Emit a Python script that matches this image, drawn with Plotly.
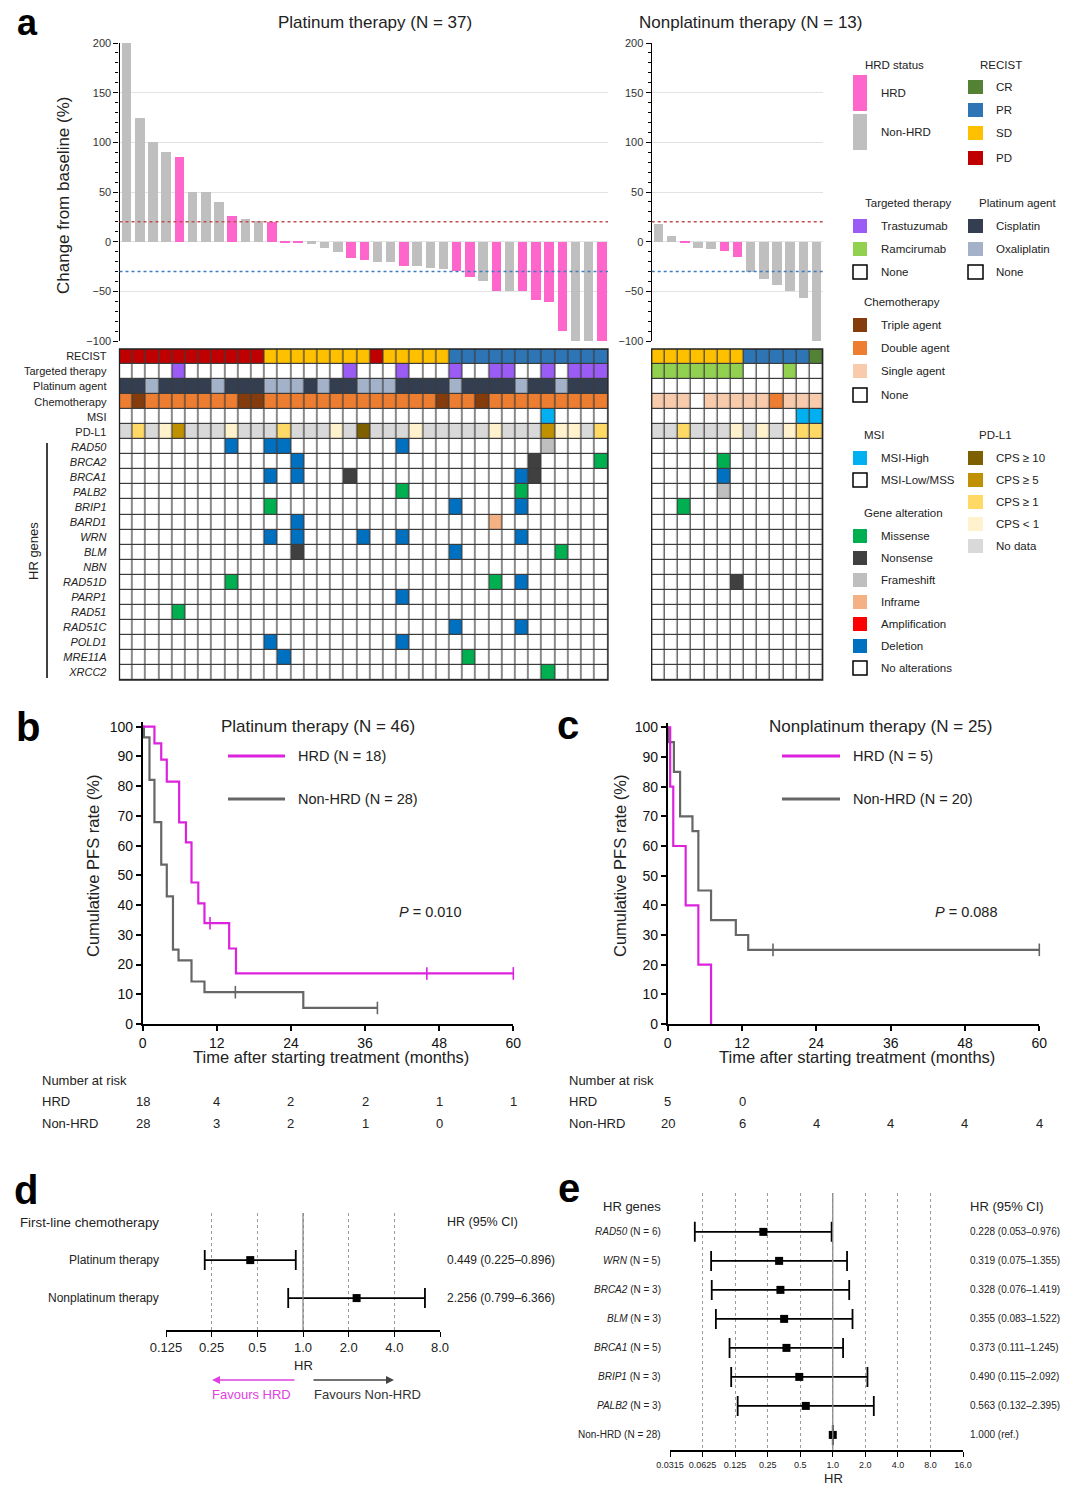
import math
import plotly.graph_objects as go

W, H = 1080, 1489
FONT = "Liberation Sans, Arial, Helvetica, sans-serif"
INK = "#222222"


def X(px):
    return px / W


def Y(py):
    return 1 - py / H


# ------------------------------------------------------------------ data
# waterfall (best change from baseline, %)
plat_change = [200, 125, 100, 90, 85, 50, 50, 40, 26, 23, 21, 20, -1, -1, -2, -6, -10, -16, -18,
               -20, -20, -24, -24, -27, -28, -30, -36, -40, -50, -50, -50, -59, -61, -90, -100, -100, -100]
plat_hrd = ["N", "N", "N", "N", "H", "N", "N", "N", "H", "N", "N", "H", "H", "H", "N", "N", "N", "H", "H",
            "N", "N", "H", "N", "N", "N", "H", "H", "N", "H", "N", "H", "H", "H", "H", "N", "N", "H"]
nonplat_change = [18, 6, -1, -6, -7, -9, -15, -31, -38, -44, -50, -57, -100]
nonplat_hrd = ["N", "N", "H", "N", "N", "H", "H", "N", "N", "N", "N", "N", "N"]

# oncoprint annotation rows (platinum, 37 patients)
plat_recist = ["PD", "PD", "PD", "PD", "PD", "PD", "PD", "PD", "PD", "PD", "PD",
               "SD", "SD", "SD", "SD", "SD", "SD", "SD", "SD", "PD", "SD", "SD", "SD", "SD", "SD",
               "PR", "PR", "PR", "PR", "PR", "PR", "PR", "PR", "PR", "PR", "PR", "PR"]
plat_targeted = ["-", "-", "-", "-", "Tras", "-", "-", "-", "-", "-", "-", "-", "-", "-", "-", "-", "-",
                 "Tras", "-", "-", "-", "Tras", "-", "-", "-", "Tras", "-", "-", "Tras", "Tras", "-", "-",
                 "Tras", "-", "Tras", "Tras", "Tras"]
plat_platinum = ["Cis", "Cis", "Oxa", "Cis", "Cis", "Cis", "Cis", "Oxa", "Cis", "Cis", "Cis", "Oxa", "Oxa",
                 "Oxa", "Cis", "Oxa", "Cis", "Cis", "Oxa", "Oxa", "Oxa", "Cis", "Cis", "Cis", "Cis", "Oxa",
                 "Cis", "Cis", "Cis", "Cis", "Oxa", "Cis", "Cis", "Oxa", "Cis", "Cis", "Cis"]
plat_chemo = ["Dbl", "Tri", "Dbl", "Dbl", "Dbl", "Dbl", "Dbl", "Dbl", "Dbl", "Tri", "Tri", "Dbl", "Dbl",
              "Dbl", "Dbl", "Dbl", "Dbl", "Dbl", "Dbl", "Dbl", "Dbl", "Dbl", "Dbl", "Dbl", "Tri", "Dbl",
              "Dbl", "Tri", "Dbl", "Dbl", "Dbl", "Dbl", "Dbl", "Dbl", "Dbl", "Dbl", "Dbl"]
plat_msi = ["MSS", "MSS", "MSS", "MSS", "MSS", "MSS", "MSS", "MSS", "MSS", "MSS", "MSS", "MSS", "MSS",
            "MSS", "MSS", "MSS", "MSS", "MSS", "MSS", "MSS", "MSS", "MSS", "MSS", "MSS", "MSS", "MSS",
            "MSS", "MSS", "MSS", "MSS", "MSS", "MSS", "MSI-H", "MSS", "MSS", "MSS", "MSS"]
plat_pdl1 = ["ND", "CPS1", "ND", "CPS0", "CPS5", "ND", "ND", "ND", "CPS0", "ND", "ND", "ND", "CPS1",
             "ND", "ND", "ND", "CPS0", "ND", "CPS10", "ND", "ND", "ND", "CPS0", "ND", "ND", "ND",
             "ND", "ND", "CPS0", "ND", "ND", "ND", "CPS5", "CPS0", "CPS0", "ND", "CPS1"]
# gene alterations: {gene: {patient column: alteration}}
plat_genes = {
    "RAD50": {9: "Del", 12: "Del", 13: "Del", 22: "Del", 33: "FS"},
    "BRCA2": {14: "Del", 32: "Non", 37: "Mis"},
    "BRCA1": {12: "Del", 14: "Del", 18: "Non", 31: "Del", 32: "Non"},
    "PALB2": {22: "Mis", 31: "Mis"},
    "BRIP1": {12: "Mis", 26: "Del", 31: "Del"},
    "BARD1": {14: "Del", 29: "Inf"},
    "WRN": {12: "Del", 14: "Del", 19: "Del", 22: "Del", 31: "Del"},
    "BLM": {14: "Non", 26: "Del", 34: "Mis"},
    "NBN": {},
    "RAD51D": {9: "Mis", 29: "Mis", 31: "Del"},
    "PARP1": {22: "Del"},
    "RAD51": {5: "Mis"},
    "RAD51C": {26: "Del", 31: "Del"},
    "POLD1": {12: "Del", 22: "Del"},
    "MRE11A": {13: "Del", 27: "Mis"},
    "XRCC2": {33: "Mis"},
}

# oncoprint annotation rows (nonplatinum, 13 patients)
nonplat_recist = ["SD", "SD", "SD", "SD", "SD", "SD", "SD", "PR", "PR", "PR", "PR", "PR", "CR"]
nonplat_targeted = ["Ram", "Ram", "Ram", "Ram", "Ram", "Ram", "Ram", "-", "-", "-", "Ram", "-", "-"]
nonplat_platinum = ["-", "-", "-", "-", "-", "-", "-", "-", "-", "-", "-", "-", "-"]
nonplat_chemo = ["Sgl", "Sgl", "Sgl", "-", "Sgl", "Sgl", "Sgl", "Sgl", "Sgl", "Dbl", "Sgl", "Sgl", "Sgl"]
nonplat_msi = ["MSS", "MSS", "MSS", "MSS", "MSS", "MSS", "MSS", "MSS", "MSS", "MSS", "MSS", "MSI-H", "MSI-H"]
nonplat_pdl1 = ["ND", "ND", "CPS1", "ND", "ND", "ND", "CPS0", "ND", "CPS0", "ND", "CPS0", "CPS1", "CPS1"]
nonplat_genes = {
    "BRCA2": {6: "Mis"},
    "BRCA1": {6: "Del"},
    "PALB2": {6: "FS"},
    "BRIP1": {3: "Mis"},
    "RAD51D": {7: "Non"},
}

annot_rows = ["RECIST", "Targeted therapy", "Platinum agent", "Chemotherapy", "MSI", "PD-L1"]
gene_order = ["RAD50", "BRCA2", "BRCA1", "PALB2", "BRIP1", "BARD1", "WRN", "BLM", "NBN", "RAD51D",
              "PARP1", "RAD51", "RAD51C", "POLD1", "MRE11A", "XRCC2"]

# Kaplan-Meier (months, PFS %)
kmb_hrd_t = [0, 1.9, 3.0, 3.9, 5.9, 7.0, 7.9, 9.0, 10.0, 14.0, 15.1, 60]
kmb_hrd_s = [100, 94.4, 88.9, 81.5, 67.8, 61.1, 47.6, 40.6, 33.9, 25.4, 17.0, 17.0]
kmb_hrd_cens_t = [10.9, 46.0, 60]
kmb_hrd_cens_s = [33.9, 17.0, 17.0]
kmb_non_t = [0, 0.2, 1.1, 1.9, 3.0, 3.9, 4.9, 5.8, 7.9, 10.0, 26.0, 38.0]
kmb_non_s = [100, 96.4, 82.1, 67.9, 53.6, 42.9, 25.0, 21.4, 14.3, 10.7, 5.4, 5.4]
kmb_non_cens_t = [15.0, 38.0]
kmb_non_cens_s = [10.7, 5.4]

kmc_hrd_t = [0, 0.4, 0.9, 2.9, 4.95, 7.0]
kmc_hrd_s = [100, 80, 60, 40, 20, 0]
kmc_non_t = [0, 0.1, 1.0, 2.0, 4.0, 4.95, 7.0, 11.0, 13.0, 60]
kmc_non_s = [100, 95, 85, 70, 65, 45, 35, 30, 25, 25]
kmc_non_cens_t = [17.0, 60]
kmc_non_cens_s = [25, 25]

risk_times = [0, 12, 24, 36, 48, 60]
risk_b_hrd = [18, 4, 2, 2, 1, 1]
risk_b_non = [28, 3, 2, 1, 0]
risk_c_hrd = [5, 0]
risk_c_non = [20, 6, 4, 4, 4, 4]

# forest plots
d_groups = ["Platinum therapy", "Nonplatinum therapy"]
d_hr = [0.449, 2.256]
d_lo = [0.225, 0.799]
d_hi = [0.896, 6.366]

e_genes = ["RAD50", "WRN", "BRCA2", "BLM", "BRCA1", "BRIP1", "PALB2", "Non-HRD"]
e_n = [6, 5, 3, 3, 5, 3, 3, 28]
e_hr = [0.228, 0.319, 0.328, 0.355, 0.373, 0.490, 0.563, 1.000]
e_lo = [0.053, 0.075, 0.076, 0.083, 0.111, 0.115, 0.132, 1.000]
e_hi = [0.976, 1.355, 1.419, 1.522, 1.245, 2.092, 2.395, 1.000]

# ------------------------------------------------------------------ styles
HRD_BAR = "#FF66CC"
NON_BAR = "#BFBFBF"
KM_HRD = "#DD22DD"
KM_NON = "#666666"
CAT_COLORS = {
    "none": "#FFFFFF",
    "CR": "#548235", "PR": "#2E75B6", "SD": "#FFC000", "PD": "#C00000",
    "Tras": "#9B5CF6", "Ram": "#92D050",
    "Cis": "#333F50", "Oxa": "#A3B2C8",
    "Tri": "#843C0C", "Dbl": "#ED7D31", "Sgl": "#F8CBAD",
    "MSI-H": "#00B0F0",
    "CPS10": "#7F6000", "CPS5": "#BF9000", "CPS1": "#FFD966", "CPS0": "#FFF2CC", "ND": "#D9D9D9",
    "Mis": "#00B050", "Non": "#404040", "FS": "#BFBFBF", "Inf": "#F4B183", "Amp": "#FF0000", "Del": "#0070C0",
}
ALIAS = {"-": "none", "MSS": "none"}
cats = list(CAT_COLORS.keys())
ncat = len(cats)
cscale = []
for i, c in enumerate(cats):
    cscale.append([i / ncat, CAT_COLORS[c]])
    cscale.append([(i + 1) / ncat, CAT_COLORS[c]])


def code(v):
    v = ALIAS.get(v, v)
    return cats.index(v) + 0.5


def build_matrix(rows, genes, ncol):
    z = [[code(v) for v in r] for r in rows]
    for g in gene_order:
        alts = genes.get(g, {})
        z.append([code(alts.get(c + 1, "none")) for c in range(ncol)])
    return z


fig = go.Figure()

# ------------------------------------------------------------------ waterfalls
fig.add_trace(go.Bar(x=list(range(1, len(plat_change) + 1)), y=plat_change,
                     marker=dict(color=[HRD_BAR if h == "H" else NON_BAR for h in plat_hrd], line=dict(width=0)),
                     width=0.72, xaxis="x", yaxis="y", showlegend=False, hoverinfo="skip"))
fig.add_trace(go.Bar(x=list(range(1, len(nonplat_change) + 1)), y=nonplat_change,
                     marker=dict(color=[HRD_BAR if h == "H" else NON_BAR for h in nonplat_hrd], line=dict(width=0)),
                     width=0.72, xaxis="x2", yaxis="y2", showlegend=False, hoverinfo="skip"))

# ------------------------------------------------------------------ oncoprints
zp = build_matrix([plat_recist, plat_targeted, plat_platinum, plat_chemo, plat_msi, plat_pdl1], plat_genes,
                  len(plat_recist))
zn = build_matrix([nonplat_recist, nonplat_targeted, nonplat_platinum, nonplat_chemo, nonplat_msi, nonplat_pdl1],
                  nonplat_genes, len(nonplat_recist))
nrow = len(annot_rows) + len(gene_order)
fig.add_trace(go.Heatmap(z=zp, x=list(range(1, len(plat_recist) + 1)), y=list(range(nrow)),
                         colorscale=cscale, zmin=0, zmax=ncat, showscale=False, xgap=1.2, ygap=1.2,
                         xaxis="x3", yaxis="y3", hoverinfo="skip"))
fig.add_trace(go.Heatmap(z=zn, x=list(range(1, len(nonplat_recist) + 1)), y=list(range(nrow)),
                         colorscale=cscale, zmin=0, zmax=ncat, showscale=False, xgap=1.2, ygap=1.2,
                         xaxis="x4", yaxis="y4", hoverinfo="skip"))


# ------------------------------------------------------------------ KM curves
def km(t, s, color, xa, ya):
    fig.add_trace(go.Scatter(x=t, y=s, mode="lines", line=dict(shape="hv", color=color, width=2.2),
                             xaxis=xa, yaxis=ya, showlegend=False, hoverinfo="skip"))


def cens(t, s, color, xa, ya):
    fig.add_trace(go.Scatter(x=t, y=s, mode="markers", cliponaxis=False,
                             marker=dict(symbol="line-ns-open", size=9, color=color,
                                         line=dict(color=color, width=1.6)),
                             xaxis=xa, yaxis=ya, showlegend=False, hoverinfo="skip"))


km(kmb_non_t, kmb_non_s, KM_NON, "x5", "y5")
km(kmb_hrd_t, kmb_hrd_s, KM_HRD, "x5", "y5")
cens(kmb_non_cens_t, kmb_non_cens_s, KM_NON, "x5", "y5")
cens(kmb_hrd_cens_t, kmb_hrd_cens_s, KM_HRD, "x5", "y5")
km(kmc_non_t, kmc_non_s, KM_NON, "x6", "y6")
km(kmc_hrd_t, kmc_hrd_s, KM_HRD, "x6", "y6")
cens(kmc_non_cens_t, kmc_non_cens_s, KM_NON, "x6", "y6")

# ------------------------------------------------------------------ forest plots
fig.add_trace(go.Scatter(x=d_hr, y=list(range(len(d_hr))), mode="markers",
                         marker=dict(symbol="square", size=8, color="black"),
                         error_x=dict(type="data", symmetric=False,
                                      array=[h - m for h, m in zip(d_hi, d_hr)],
                                      arrayminus=[m - l for m, l in zip(d_hr, d_lo)],
                                      color="black", thickness=1.8, width=10),
                         xaxis="x7", yaxis="y7", showlegend=False, hoverinfo="skip"))
fig.add_trace(go.Scatter(x=e_hr, y=list(range(len(e_hr))), mode="markers",
                         marker=dict(symbol="square", size=8, color="black"),
                         error_x=dict(type="data", symmetric=False,
                                      array=[h - m for h, m in zip(e_hi, e_hr)],
                                      arrayminus=[m - l for m, l in zip(e_hr, e_lo)],
                                      color="black", thickness=1.8, width=10),
                         xaxis="x8", yaxis="y8", showlegend=False, hoverinfo="skip"))

# ------------------------------------------------------------------ axes
wf_y = dict(range=[-100, 200], tick0=0, dtick=50, showline=True, linecolor="black", linewidth=1.3,
            ticks="outside", ticklen=5, tickwidth=1.2, tickcolor="black",
            minor=dict(ticks="outside", dtick=10, ticklen=3, tickcolor="black", tickwidth=1, showgrid=False),
            showgrid=True, gridcolor="#E2E2E2", gridwidth=1, zeroline=False,
            tickfont=dict(size=11, color="#333"), automargin=False)
row_labels = annot_rows + ["<i>%s</i>" % g for g in gene_order]
km_x = dict(range=[0, 60], tick0=0, dtick=12, showline=True, linecolor="black", linewidth=1.6,
            ticks="outside", ticklen=5, tickwidth=1.5, tickcolor="black", showgrid=False, zeroline=False,
            tickfont=dict(size=14, color="#111"), automargin=False)
km_y = dict(range=[0, 101.5], tick0=0, dtick=10, showline=True, linecolor="black", linewidth=1.6,
            ticks="outside", ticklen=5, tickwidth=1.5, tickcolor="black", showgrid=False, zeroline=False,
            tickfont=dict(size=14, color="#111"), automargin=False)
d_ticks = [0.125, 0.25, 0.5, 1, 2, 4, 8]
e_ticks = [0.03125, 0.0625, 0.125, 0.25, 0.5, 1, 2, 4, 8, 16]
forest_x = dict(type="log", showline=True, linecolor="black", linewidth=1.5, ticks="outside", ticklen=5,
                tickwidth=1.3, tickcolor="black", showgrid=True, gridcolor="#9A9A9A", griddash="dot",
                gridwidth=1, zeroline=False, automargin=False)
hidden = dict(visible=False, automargin=False)

fig.update_layout(
    width=W, height=H, margin=dict(l=0, r=0, t=0, b=0, pad=0, autoexpand=False),
    paper_bgcolor="white", plot_bgcolor="white",
    font=dict(family=FONT, color=INK), showlegend=False, bargap=0,
    xaxis=dict(domain=[X(119.5), X(608)], range=[0.5, 37.5], anchor="y", **hidden),
    yaxis=dict(domain=[Y(341), Y(43)], anchor="x", **wf_y),
    xaxis2=dict(domain=[X(651.7), X(822.7)], range=[0.5, 13.5], anchor="y2", **hidden),
    yaxis2=dict(domain=[Y(341), Y(43)], anchor="x2", **wf_y),
    xaxis3=dict(domain=[X(119.5), X(608)], range=[0.5, 37.5], anchor="y3", **hidden),
    yaxis3=dict(domain=[Y(680), Y(349)], range=[nrow - 0.5, -0.5], anchor="x3", tickvals=list(range(nrow)),
                ticktext=row_labels, ticks="", showline=False, showgrid=False, zeroline=False,
                tickfont=dict(size=11, color=INK), ticklabelstandoff=12, automargin=False),
    xaxis4=dict(domain=[X(651.7), X(822.7)], range=[0.5, 13.5], anchor="y4", **hidden),
    yaxis4=dict(domain=[Y(680), Y(349)], range=[nrow - 0.5, -0.5], anchor="x4", showticklabels=False,
                ticks="", showline=False, showgrid=False, zeroline=False, automargin=False),
    xaxis5=dict(domain=[X(142.7), X(513.3)], anchor="y5", **km_x),
    yaxis5=dict(domain=[Y(1024), Y(1024 - 297.3 * 1.015)], anchor="x5", **km_y),
    xaxis6=dict(domain=[X(667.7), X(1039.3)], anchor="y6", **km_x),
    yaxis6=dict(domain=[Y(1024), Y(1024 - 296.7 * 1.015)], anchor="x6", **km_y),
    xaxis7=dict(domain=[X(166), X(440)], range=[math.log10(0.125), math.log10(8)], anchor="y7",
                tickvals=d_ticks, ticktext=["0.125", "0.25", "0.5", "1.0", "2.0", "4.0", "8.0"],
                tickfont=dict(size=13, color=INK), **forest_x),
    yaxis7=dict(domain=[Y(1330), Y(1213)], range=[1.84, -1.24], anchor="x7", **hidden),
    xaxis8=dict(domain=[X(670), X(963)], range=[math.log10(0.03125), math.log10(16)], anchor="y8",
                tickvals=e_ticks, ticktext=["0.0315", "0.0625", "0.125", "0.25", "0.5", "1.0", "2.0", "4.0",
                                            "8.0", "16.0"],
                tickfont=dict(size=9, color=INK), **forest_x),
    yaxis8=dict(domain=[Y(1450), Y(1193)], range=[7.52, -1.34], anchor="x8", **hidden),
)

shapes = []
# waterfall reference lines
for xa, ya in (("x", "y"), ("x2", "y2")):
    shapes.append(dict(type="line", xref=xa + " domain", x0=0, x1=1.0, yref=ya, y0=20, y1=20,
                       line=dict(color="#C0504D", width=1.5, dash="dot")))
    shapes.append(dict(type="line", xref=xa + " domain", x0=0, x1=1.0, yref=ya, y0=-30, y1=-30,
                       line=dict(color="#3F7CC0", width=1.5, dash="dot")))
# oncoprint grid background + frame
for xa, ya in (("x3", "y3"), ("x4", "y4")):
    shapes.append(dict(type="rect", xref=xa + " domain", yref=ya + " domain", x0=0, x1=1, y0=0, y1=1,
                       fillcolor="#3C3C3C", line=dict(width=0), layer="below"))
    shapes.append(dict(type="rect", xref=xa + " domain", yref=ya + " domain", x0=0, x1=1, y0=0, y1=1,
                       fillcolor="rgba(0,0,0,0)", line=dict(color="#222", width=1.3), layer="above"))
# HR genes bracket
shapes.append(dict(type="line", xref="paper", yref="paper", x0=X(47), x1=X(47), y0=Y(443), y1=Y(678),
                   line=dict(color="black", width=1.5)))
# forest HR = 1 lines
for xa, ya in (("x7", "y7"), ("x8", "y8")):
    shapes.append(dict(type="line", xref=xa, x0=1, x1=1, yref=ya + " domain", y0=0, y1=1,
                       line=dict(color="#8A8A8A", width=1.3)))
# KM legend lines
for (x0, x1, y, col) in ((228, 285, 756, KM_HRD), (228, 285, 799, KM_NON),
                         (782, 840, 756, KM_HRD), (782, 840, 799, KM_NON)):
    shapes.append(dict(type="line", xref="paper", yref="paper", x0=X(x0), x1=X(x1), y0=Y(y), y1=Y(y),
                       line=dict(color=col, width=3)))

annotations = []


def txt(x, y, s, size=11.5, anchor="left", color=INK, yanchor="middle", **kw):
    annotations.append(dict(xref="paper", yref="paper", x=X(x), y=Y(y), text=s, showarrow=False,
                            xanchor=anchor, yanchor=yanchor, font=dict(size=size, color=color, family=FONT),
                            **kw))


def box(x0, y0, w, h, color, outline=False):
    shapes.append(dict(type="rect", xref="paper", yref="paper", x0=X(x0), x1=X(x0 + w), y0=Y(y0 + h), y1=Y(y0),
                       fillcolor=color, line=dict(color="black" if outline else color,
                                                  width=1.5 if outline else 0)))


# panel letters
txt(27, 0, "<b>a</b>", size=36, anchor="center", color="black", yanchor="top")
for letter, x, y in (("b", 28, 727), ("c", 568, 725), ("d", 26, 1190), ("e", 569, 1188)):
    txt(x, y, "<b>%s</b>" % letter, size=40, anchor="center", color="black")

# top titles
txt(375, 23, "Platinum therapy (N = 37)", size=17, anchor="center")
txt(750, 23, "Nonplatinum therapy (N = 13)", size=17, anchor="center")
txt(63, 196, "Change from baseline (%)", size=17, anchor="center", textangle=-90)
txt(33, 551, "HR genes", size=13, anchor="center", textangle=-90)

# legends (right column)
LX1, LT1, LX2, LT2 = 853, 879, 968, 994
txt(863, 65, "HRD status")
box(LX1, 75, 14, 36, HRD_BAR)
txt(LT1, 93, "HRD")
box(LX1, 114, 14, 36, NON_BAR)
txt(LT1, 132, "Non-HRD")
txt(978, 65, "RECIST")
for lab, key, yy in (("CR", "CR", 80), ("PR", "PR", 103), ("SD", "SD", 126), ("PD", "PD", 151)):
    box(LX2, yy, 15, 14, CAT_COLORS[key])
    txt(LT2, yy + 7, lab)
txt(863, 203, "Targeted therapy")
for lab, key, yy in (("Trastuzumab", "Tras", 219), ("Ramcirumab", "Ram", 242), ("None", "none", 265)):
    box(LX1, yy, 14, 14, CAT_COLORS[key], outline=(key == "none"))
    txt(LT1, yy + 7, lab)
txt(977, 203, "Platinum agent")
for lab, key, yy in (("Cisplatin", "Cis", 219), ("Oxaliplatin", "Oxa", 242), ("None", "none", 265)):
    box(LX2, yy, 15, 14, CAT_COLORS[key], outline=(key == "none"))
    txt(LT2, yy + 7, lab)
txt(862, 302, "Chemotherapy")
for lab, key, yy in (("Triple agent", "Tri", 318), ("Double agent", "Dbl", 341), ("Single agent", "Sgl", 364),
                     ("None", "none", 388)):
    box(LX1, yy, 14, 14, CAT_COLORS[key], outline=(key == "none"))
    txt(LT1, yy + 7, lab)
txt(862, 435, "MSI")
for lab, key, yy in (("MSI-High", "MSI-H", 451), ("MSI-Low/MSS", "none", 473)):
    box(LX1, yy, 14, 14, CAT_COLORS[key], outline=(key == "none"))
    txt(LT1, yy + 7, lab)
txt(862, 513, "Gene alteration")
for lab, key, yy in (("Missense", "Mis", 529), ("Nonsense", "Non", 551), ("Frameshift", "FS", 573),
                     ("Inframe", "Inf", 595), ("Amplification", "Amp", 617), ("Deletion", "Del", 639),
                     ("No alterations", "none", 661)):
    box(LX1, yy, 14, 14, CAT_COLORS[key], outline=(key == "none"))
    txt(LT1, yy + 7, lab)
txt(977, 435, "PD-L1")
for lab, key, yy in (("CPS ≥ 10", "CPS10", 451), ("CPS ≥ 5", "CPS5", 473), ("CPS ≥ 1", "CPS1", 495),
                     ("CPS &lt; 1", "CPS0", 517), ("No data", "ND", 539)):
    box(LX2, yy, 15, 14, CAT_COLORS[key])
    txt(LT2, yy + 7, lab)

# KM texts
txt(318, 726, "Platinum therapy (N = 46)", size=17, anchor="center")
txt(296, 756, "HRD (N = 18)", size=14.5)
txt(296, 799, "Non-HRD (N = 28)", size=14.5)
txt(397, 912, "<i>P</i> = 0.010", size=14.5)
txt(93, 866, "Cumulative PFS rate (%)", size=16.5, anchor="center", textangle=-90)
txt(331, 1057, "Time after starting treatment (months)", size=16.5, anchor="center")
txt(880, 726, "Nonplatinum therapy (N = 25)", size=17, anchor="center")
txt(851, 756, "HRD (N = 5)", size=14.5)
txt(851, 799, "Non-HRD (N = 20)", size=14.5)
txt(933, 912, "<i>P</i> = 0.088", size=14.5)
txt(620, 866, "Cumulative PFS rate (%)", size=16.5, anchor="center", textangle=-90)
txt(857, 1057, "Time after starting treatment (months)", size=16.5, anchor="center")

# risk tables
for lx, xa, hrd_vals, non_vals in ((40, "x5", risk_b_hrd, risk_b_non), (567, "x6", risk_c_hrd, risk_c_non)):
    txt(lx, 1080, "Number at risk", size=13)
    txt(lx, 1101, "HRD", size=13)
    txt(lx, 1123, "Non-HRD", size=13)
    for t, v in zip(risk_times, hrd_vals):
        annotations.append(dict(xref=xa, yref="paper", x=t, y=Y(1101), text=str(v), showarrow=False,
                                xanchor="center", yanchor="middle", font=dict(size=13, color=INK, family=FONT)))
    for t, v in zip(risk_times, non_vals):
        annotations.append(dict(xref=xa, yref="paper", x=t, y=Y(1123), text=str(v), showarrow=False,
                                xanchor="center", yanchor="middle", font=dict(size=13, color=INK, family=FONT)))

# forest d texts
annotations.append(dict(xref="paper", yref="y7", x=X(161), y=-1, text="First-line chemotherapy", showarrow=False,
                        xanchor="right", yanchor="middle", font=dict(size=13.3, color=INK, family=FONT)))
annotations.append(dict(xref="paper", yref="y7", x=X(445), y=-1, text="HR (95% CI)", showarrow=False,
                        xanchor="left", yanchor="middle", font=dict(size=12.5, color=INK, family=FONT)))
for i, g in enumerate(d_groups):
    annotations.append(dict(xref="paper", yref="y7", x=X(161), y=i, text=g, showarrow=False,
                            xanchor="right", yanchor="middle", font=dict(size=12, color=INK, family=FONT)))
    annotations.append(dict(xref="paper", yref="y7", x=X(445), y=i,
                            text="%.3f (%.3f–%.3f)" % (d_hr[i], d_lo[i], d_hi[i]), showarrow=False,
                            xanchor="left", yanchor="middle", font=dict(size=12, color=INK, family=FONT)))
txt(303, 1365, "HR", size=13, anchor="center")
annotations.append(dict(xref="paper", yref="paper", x=X(212), y=Y(1380), ax=84, ay=0, axref="pixel",
                        ayref="pixel", text="", showarrow=True, arrowhead=2, arrowsize=1, arrowwidth=1.6,
                        arrowcolor="#E040E0"))
annotations.append(dict(xref="paper", yref="paper", x=X(394), y=Y(1380), ax=-82, ay=0, axref="pixel",
                        ayref="pixel", text="", showarrow=True, arrowhead=2, arrowsize=1, arrowwidth=1.6,
                        arrowcolor="#444444"))
txt(251, 1394, "Favours HRD", size=13, anchor="center", color="#E040E0")
txt(367, 1394, "Favours Non-HRD", size=13, anchor="center", color="#333333")

# forest e texts
annotations.append(dict(xref="paper", yref="y8", x=X(663), y=-0.86, text="HR genes", showarrow=False,
                        xanchor="right", yanchor="middle", font=dict(size=13, color=INK, family=FONT)))
annotations.append(dict(xref="paper", yref="y8", x=X(968), y=-0.86, text="HR (95% CI)", showarrow=False,
                        xanchor="left", yanchor="middle", font=dict(size=13, color=INK, family=FONT)))
for i, g in enumerate(e_genes):
    name = g if g == "Non-HRD" else "<i>%s</i>" % g
    label = "%s (N = %d)" % (name, e_n[i])
    val = "1.000 (ref.)" if g == "Non-HRD" else "%.3f (%.3f–%.3f)" % (e_hr[i], e_lo[i], e_hi[i])
    annotations.append(dict(xref="paper", yref="y8", x=X(663), y=i, text=label, showarrow=False,
                            xanchor="right", yanchor="middle", font=dict(size=10, color=INK, family=FONT)))
    annotations.append(dict(xref="paper", yref="y8", x=X(968), y=i, text=val, showarrow=False,
                            xanchor="left", yanchor="middle", font=dict(size=10, color=INK, family=FONT)))
txt(833, 1478, "HR", size=13, anchor="center")

fig.update_layout(shapes=shapes, annotations=annotations)
fig.write_html(
    "out.html",
    config={"displayModeBar": False},
    post_script="document.body.style.margin='0px';document.body.style.padding='0px';"
                "document.documentElement.style.overflow='hidden';",
)
